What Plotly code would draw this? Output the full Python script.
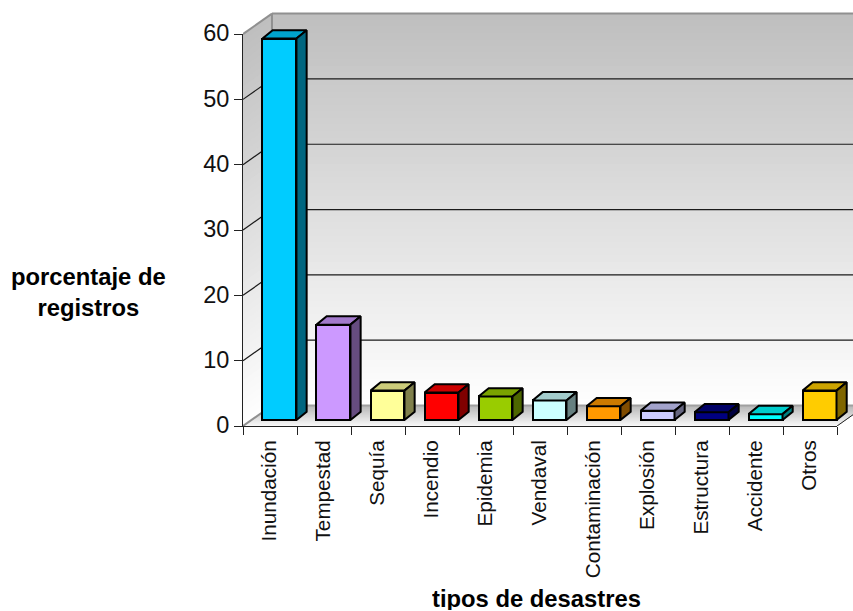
import plotly.graph_objects as go

# Disaster types and their share of records (percent)
categories = ["Inundación", "Tempestad", "Sequía", "Incendio", "Epidemia", "Vendaval",
              "Contaminación", "Explosión", "Estructura", "Accidente", "Otros"]
values = [58.4, 14.6, 4.5, 4.2, 3.6, 3.0, 2.1, 1.4, 1.2, 0.9, 4.5]
bar_colors = ["#00CCFF", "#CC99FF", "#FFFF99", "#FF0000", "#99CC00", "#CCFFFF",
              "#FF9900", "#CCCCFF", "#000080", "#00FFFF", "#FFCC00"]
y_ticks = [0, 10, 20, 30, 40, 50, 60]

# Axis scale: pixels per category and per percentage point
PX_X = 54.05
PX_Y = 6.54
PLOT_L = 242.5
PLOT_B = 426.5
WALL_DX = 29 / PX_X      # depth of the chart box
WALL_DY = 20.5 / PX_Y
BAR_DX = 10.2 / PX_X     # depth of a single bar
BAR_DY = 8.3 / PX_Y
BAR_BASE = 6 / PX_Y      # bars stand part-way into the floor
BAR_LEFT = 19.5 / PX_X
BAR_W = 34 / PX_X
PLOT_W = 853 - PLOT_L
X_MAX = PLOT_W / PX_X
Y_MAX = PLOT_B / PX_Y
Y_TOP = 60
N_CATS = len(categories)
FONT = "Liberation Sans, Arial, sans-serif"


def shade(hex_color, k):
    r, g, b = (int(hex_color[i:i + 2], 16) for i in (1, 3, 5))
    return f"rgb({round(r * k)},{round(g * k)},{round(b * k)})"


def mix(c0, c1, t):
    v = round(c0 + (c1 - c0) * t)
    return f"rgb({v},{v},{v})"


def poly(points):
    return "M" + " L".join(f"{x},{y}" for x, y in points) + " Z"


shapes = []


def fill_shape(points, color):
    shapes.append(dict(type="path", path=poly(points), xref="x", yref="y",
                       fillcolor=color, line=dict(width=0), layer="below"))


def line_shape(x0, y0, x1, y1, color, width):
    shapes.append(dict(type="line", x0=x0, y0=y0, x1=x1, y1=y1, xref="x", yref="y",
                       line=dict(color=color, width=width), layer="below"))


# Walls: vertical gradient painted from the top down, each band reaching the bottom
for i in range(61):
    v = Y_TOP - i
    col = mix(191, 255, i / 60)
    fill_shape([(WALL_DX, v + WALL_DY), (X_MAX + 1, v + WALL_DY),
                (X_MAX + 1, WALL_DY), (WALL_DX, WALL_DY)], col)
    fill_shape([(0, v), (WALL_DX, v + WALL_DY), (WALL_DX, WALL_DY), (0, 0)], col)

# Floor gradient, back to front
for i in range(21):
    t = i / 20
    d = WALL_DY * (1 - t)
    shift = WALL_DX * (1 - t)
    fill_shape([(shift, d), (N_CATS + shift, d), (N_CATS, 0), (0, 0)], mix(184, 250, t))

# Gridlines on the back wall and their return on the left wall
for v in y_ticks[1:]:
    color = "#909090" if v == Y_TOP else "#1a1a1a"
    width = 2 if v == Y_TOP else 1.2
    line_shape(WALL_DX, v + WALL_DY, X_MAX + 1, v + WALL_DY, color, width)
    line_shape(0, v, WALL_DX, v + WALL_DY, color, width)

# Box edges
line_shape(WALL_DX, WALL_DY, WALL_DX, Y_TOP + WALL_DY, "#909090", 2)
line_shape(WALL_DX, WALL_DY, X_MAX + 1, WALL_DY, "#a0a0a0", 2)
line_shape(0, 0, WALL_DX, WALL_DY, "#909090", 2)
line_shape(N_CATS, 0, N_CATS + WALL_DX, WALL_DY, "#222222", 1)

fig = go.Figure()

# Front faces of the bars
fig.add_trace(go.Bar(
    x=[i + BAR_LEFT + BAR_W / 2 for i in range(N_CATS)],
    y=values,
    base=BAR_BASE,
    width=BAR_W,
    marker=dict(color=bar_colors, line=dict(color="black", width=2)),
    hoverinfo="skip",
    showlegend=False,
))

# Top and side faces of the bars
for i, (val, col) in enumerate(zip(values, bar_colors)):
    left = i + BAR_LEFT
    right = left + BAR_W
    top = BAR_BASE + val
    fig.add_trace(go.Scatter(
        x=[left, left + BAR_DX, right + BAR_DX, right, left],
        y=[top, top + BAR_DY, top + BAR_DY, top, top],
        mode="lines", fill="toself", fillcolor=shade(col, 0.8),
        line=dict(color="black", width=2), hoverinfo="skip", showlegend=False,
    ))
    fig.add_trace(go.Scatter(
        x=[right, right + BAR_DX, right + BAR_DX, right, right],
        y=[top, top + BAR_DY, BAR_BASE + BAR_DY, BAR_BASE, top],
        mode="lines", fill="toself", fillcolor=shade(col, 0.5),
        line=dict(color="black", width=2), hoverinfo="skip", showlegend=False,
    ))

# Visible axes span only the categories and the 0-60 scale
fig.add_trace(go.Scatter(x=categories, y=[0] * N_CATS, xaxis="x2", yaxis="y2", mode="markers",
                         marker=dict(opacity=0), hoverinfo="skip", showlegend=False))

fig.update_layout(
    width=853, height=611,
    margin=dict(l=PLOT_L, r=0, t=0, b=611 - PLOT_B, autoexpand=False),
    paper_bgcolor="white", plot_bgcolor="rgba(0,0,0,0)",
    font=dict(family=FONT, size=20, color="black"),
    bargap=0,
    shapes=shapes,
    xaxis=dict(range=[0, X_MAX], visible=False, domain=[0, 1]),
    yaxis=dict(range=[0, Y_MAX], visible=False, domain=[0, 1]),
    xaxis2=dict(type="category", anchor="y2", domain=[0, N_CATS * PX_X / PLOT_W],
                range=[-0.5, N_CATS - 0.5], tickson="boundaries",
                tickangle=-90, ticks="outside", ticklen=8, tickcolor="#222222", tickwidth=1,
                ticklabelstandoff=5, ticklabelshift=-1,
                showgrid=False, zeroline=False, showline=True, linecolor="#222222", linewidth=1,
                tickfont=dict(family=FONT, size=20.7, color="#111111")),
    yaxis2=dict(anchor="x2", domain=[0, Y_TOP * PX_Y / PLOT_B], range=[0, Y_TOP],
                tickmode="array", tickvals=y_ticks,
                ticks="outside", ticklen=8, tickcolor="#222222", tickwidth=1,
                ticklabelshift=-1,
                showgrid=False, zeroline=False, showline=True, linecolor="#222222", linewidth=1,
                tickfont=dict(family=FONT, size=23.5, color="#111111")),
    annotations=[
        dict(text="<b>porcentaje de<br>registros</b>", xref="paper", yref="paper",
             x=(88 - PLOT_L) / PLOT_W, y=(PLOT_B - 292) / PLOT_B, xanchor="center", yanchor="middle",
             showarrow=False, align="center", font=dict(family=FONT, size=23.8, color="black")),
        dict(text="<b>tipos de desastres</b>", xref="paper", yref="paper",
             x=(536.5 - PLOT_L) / PLOT_W, y=(PLOT_B - 598.5) / PLOT_B, xanchor="center", yanchor="middle",
             height=24, showarrow=False, font=dict(family=FONT, size=23.8, color="black")),
    ],
)

fig.write_html("out.html")
